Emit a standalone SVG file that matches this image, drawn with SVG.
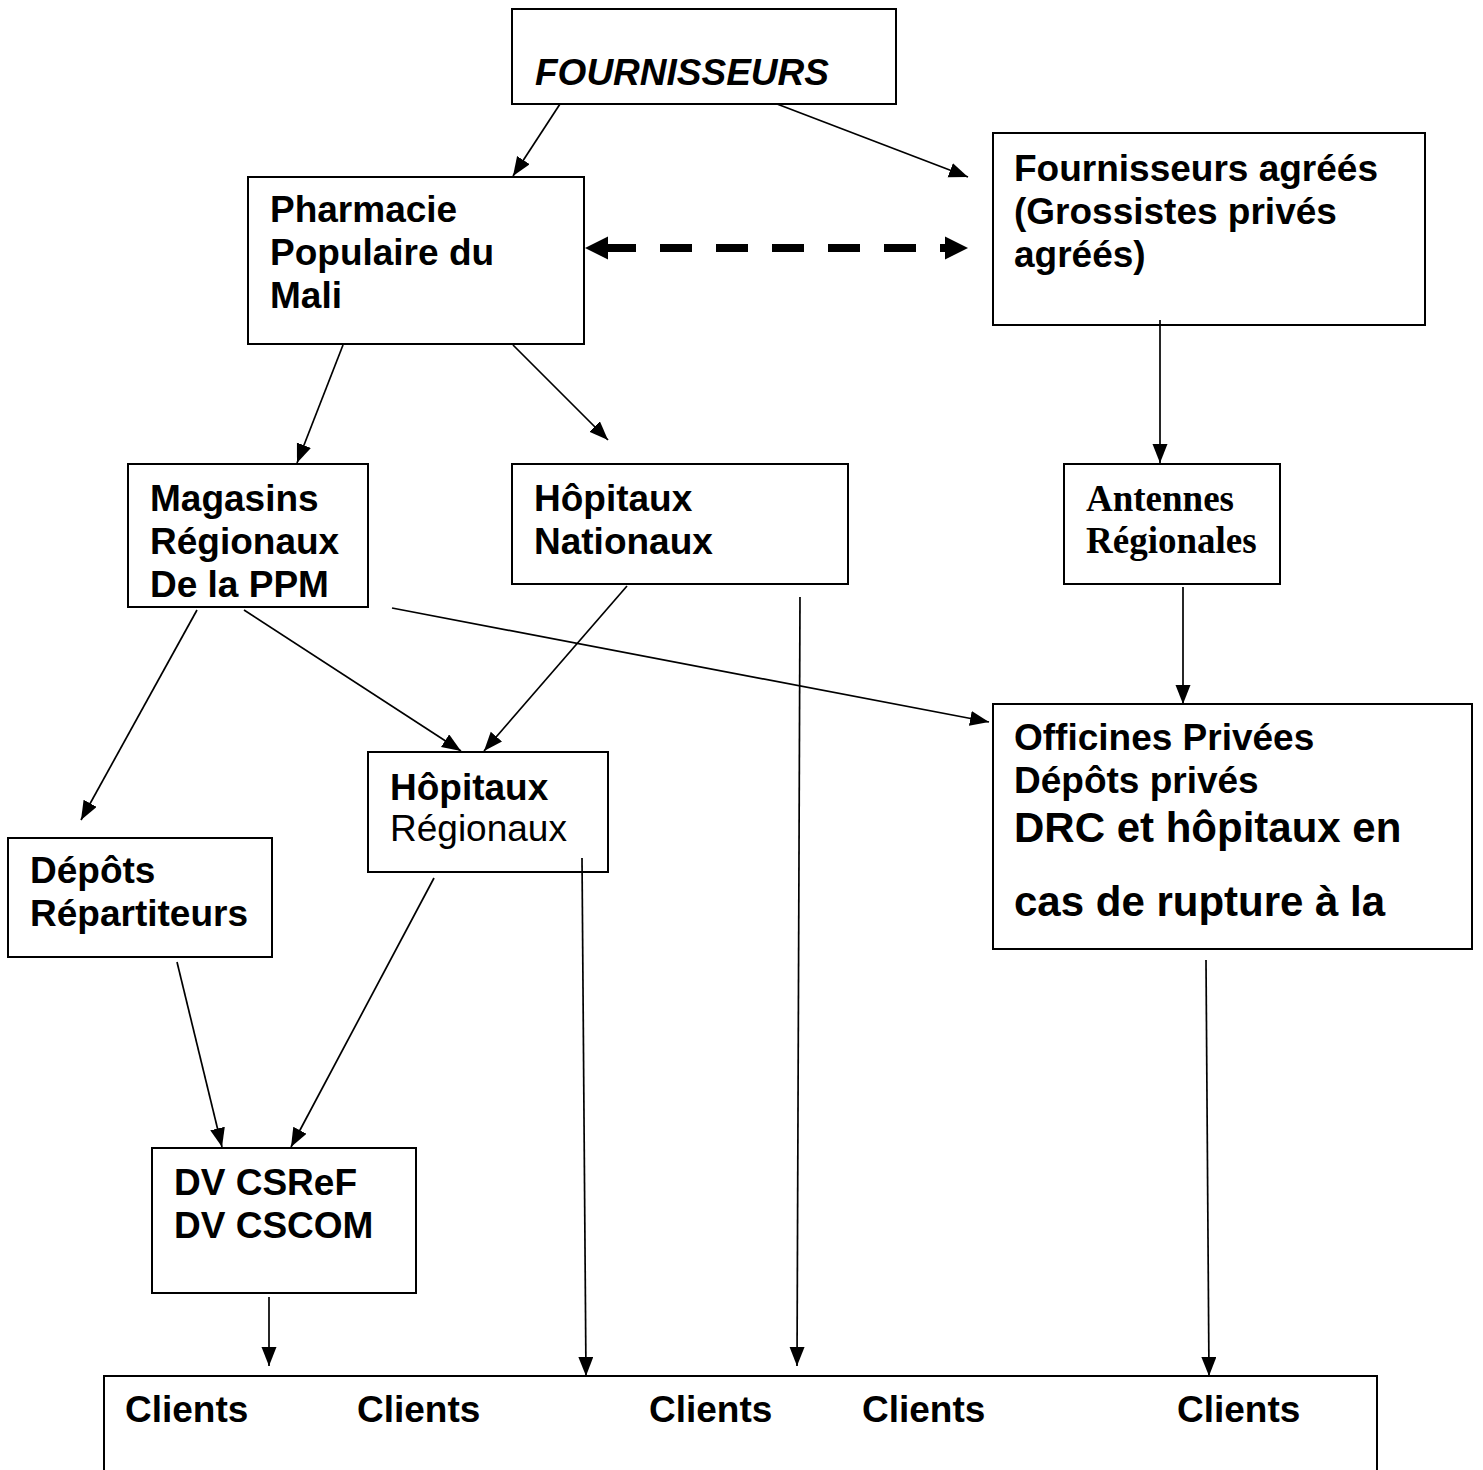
<svg xmlns="http://www.w3.org/2000/svg" width="1483" height="1470" viewBox="0 0 1483 1470">
<style>
.box{fill:#fff;stroke:#000;stroke-width:2}
.t{font-family:"Liberation Sans",Arial,sans-serif;font-size:37px;font-weight:bold;fill:#000}
.r{font-weight:normal}
.i{font-style:italic}
.big{font-size:42px}
.serif{font-family:"Liberation Serif","Times New Roman",serif}
.c{fill:none;stroke:#000;stroke-width:1.7}
</style>
<defs>
<marker id="ah" markerUnits="userSpaceOnUse" markerWidth="20" markerHeight="16" refX="19" refY="7.5" orient="auto">
<path d="M0,0 L19,7.5 L0,15 z" fill="#000"/>
</marker>
</defs>
<rect width="1483" height="1470" fill="#fff"/>
<g id="n-fournisseurs">
<rect class="box" x="512" y="9" width="384" height="95"/>
<text class="t i" x="535" y="85">FOURNISSEURS</text>
</g>
<g id="n-ppm">
<rect class="box" x="248" y="177" width="336" height="167"/>
<text class="t" x="270" y="222">Pharmacie</text>
<text class="t" x="270" y="265">Populaire du</text>
<text class="t" x="270" y="308">Mali</text>
</g>
<g id="n-agrees">
<rect class="box" x="993" y="133" width="432" height="192"/>
<text class="t" x="1014" y="181">Fournisseurs agréés</text>
<text class="t" x="1014" y="224">(Grossistes privés</text>
<text class="t" x="1014" y="267">agréés)</text>
</g>
<g id="n-magasins">
<rect class="box" x="128" y="464" width="240" height="143"/>
<text class="t" x="150" y="511">Magasins</text>
<text class="t" x="150" y="554">Régionaux</text>
<text class="t" x="150" y="597">De la PPM</text>
</g>
<g id="n-hnationaux">
<rect class="box" x="512" y="464" width="336" height="120"/>
<text class="t" x="534" y="511">Hôpitaux</text>
<text class="t" x="534" y="554">Nationaux</text>
</g>
<g id="n-antennes">
<rect class="box" x="1064" y="464" width="216" height="120"/>
<text class="t serif" x="1086" y="511">Antennes</text>
<text class="t serif" x="1086" y="553">Régionales</text>
</g>
<g id="n-hregionaux">
<rect class="box" x="368" y="752" width="240" height="120"/>
<text class="t" x="390" y="800">Hôpitaux</text>
<text class="t r" x="390" y="841">Régionaux</text>
</g>
<g id="n-depots">
<rect class="box" x="8" y="838" width="264" height="119"/>
<text class="t" x="30" y="883">Dépôts</text>
<text class="t" x="30" y="926">Répartiteurs</text>
</g>
<g id="n-officines">
<rect class="box" x="993" y="704" width="479" height="245"/>
<text class="t" x="1014" y="750">Officines Privées</text>
<text class="t" x="1014" y="793">Dépôts privés</text>
<text class="t big" x="1014" y="842">DRC et hôpitaux en</text>
<text class="t big" x="1014" y="916">cas de rupture à la</text>
</g>
<g id="n-dv">
<rect class="box" x="152" y="1148" width="264" height="145"/>
<text class="t" x="174" y="1195">DV CSReF</text>
<text class="t" x="174" y="1238">DV CSCOM</text>
</g>
<g id="n-clients">
<rect class="box" x="104" y="1376" width="1273" height="120"/>
<text class="t" x="125" y="1422">Clients</text>
<text class="t" x="357" y="1422">Clients</text>
<text class="t" x="649" y="1422">Clients</text>
<text class="t" x="862" y="1422">Clients</text>
<text class="t" x="1177" y="1422">Clients</text>
</g>
<g id="connectors">
<line class="c" x1="560" y1="104" x2="513" y2="176" marker-end="url(#ah)"/>
<line class="c" x1="777" y1="104" x2="968" y2="177" marker-end="url(#ah)"/>
<line x1="604" y1="248" x2="950" y2="248" stroke="#000" stroke-width="8" stroke-dasharray="32 24"/>
<polygon points="585,248 608,236.5 608,259.5" fill="#000"/>
<polygon points="968,248 945,236.5 945,259.5" fill="#000"/>
<line class="c" x1="1160" y1="320" x2="1160" y2="463" marker-end="url(#ah)"/>
<line class="c" x1="343" y1="345" x2="297" y2="463" marker-end="url(#ah)"/>
<line class="c" x1="513" y1="345" x2="608" y2="440" marker-end="url(#ah)"/>
<line class="c" x1="1183" y1="587" x2="1183" y2="704" marker-end="url(#ah)"/>
<line class="c" x1="392" y1="608" x2="989" y2="722" marker-end="url(#ah)"/>
<line class="c" x1="197" y1="610" x2="81" y2="820" marker-end="url(#ah)"/>
<line class="c" x1="244" y1="610" x2="461" y2="751" marker-end="url(#ah)"/>
<line class="c" x1="627" y1="586" x2="484" y2="751" marker-end="url(#ah)"/>
<line class="c" x1="800" y1="597" x2="797" y2="1366" marker-end="url(#ah)"/>
<line class="c" x1="582" y1="858" x2="586" y2="1376" marker-end="url(#ah)"/>
<line class="c" x1="434" y1="878" x2="291" y2="1147" marker-end="url(#ah)"/>
<line class="c" x1="177" y1="962" x2="222" y2="1147" marker-end="url(#ah)"/>
<line class="c" x1="269" y1="1297" x2="269" y2="1366" marker-end="url(#ah)"/>
<line class="c" x1="1206" y1="960" x2="1209" y2="1376" marker-end="url(#ah)"/>
</g>
</svg>
